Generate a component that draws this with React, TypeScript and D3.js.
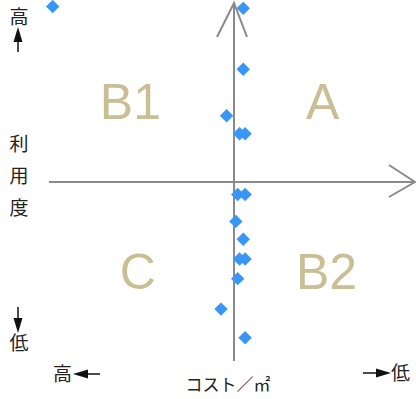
import React from 'react';
import * as d3 from 'd3';

// cost per m² (x) vs. usage (y), both on a -100..100 scale
const costValues = [-98, 5, 5, -4, 3, 6, 2, 6, 1, 5, 3, 6, 2, -7, 6];
const usageValues = [98, 97, 63, 37, 27, 27, -7, -7, -22, -32, -43, -43, -54, -71, -87];

// quadrant names and where they sit (data units, text baseline)
const quadrantLabels = ['A', 'B1', 'C', 'B2'];
const quadrantX = [48, -56, -52, 50];
const quadrantY = [35, 35, -60, -60];

const yAxisChars = ['利', '用', '度'];

const W = 416;
const H = 399;

const App = () => {
  const x = d3.scaleLinear().domain([-100, 100]).range([49, 419]);
  const y = d3.scaleLinear().domain([-100, 100]).range([361, 3]);

  const x0 = x(0);
  const y0 = y(0);

  const diamond = d3.symbol().type(d3.symbolSquare).size(90)();

  const font = '"Noto Sans CJK JP", "DejaVu Sans", sans-serif';
  const axisColor = '#8a8a8a';
  const labelColor = '#c9be94';

  return (
    <div style={{ position: 'absolute', left: 0, top: 0 }}>
      <svg width={W} height={H} style={{ display: 'block', background: '#fff' }}>
        {/* quadrant labels */}
        {quadrantLabels.map((t, i) => (
          <text
            key={t}
            x={x(quadrantX[i])}
            y={y(quadrantY[i])}
            textAnchor="middle"
            fontFamily="Liberation Sans, Arial, sans-serif"
            fontSize={50}
            fill={labelColor}
          >
            {t}
          </text>
        ))}

        {/* axes */}
        <g stroke={axisColor} strokeWidth={2} fill="none">
          <line x1={x.range()[0]} x2={415} y1={y0} y2={y0} />
          <line x1={x0} x2={x0} y1={361} y2={3} />
          <path d={`M${x0 - 17},37L${x0},3L${x0 + 13},37`} />
          <path d={`M389,${y0 - 17}L415,${y0}L389,${y0 + 15}`} />
        </g>

        {/* points */}
        {costValues.map((c, i) => (
          <path
            key={i}
            d={diamond}
            transform={`translate(${x(c)},${y(usageValues[i])}) rotate(45)`}
            fill="#3896f6"
          />
        ))}

        {/* left side labels */}
        <g fontFamily={font} fontSize={19} fill="#222" textAnchor="middle">
          <text x={19} y={24}>高</text>
          {yAxisChars.map((ch, i) => (
            <text key={ch} x={19} y={151 + i * 32}>{ch}</text>
          ))}
          <text x={19} y={350}>低</text>
        </g>
        <g stroke="#111" strokeWidth={1.5}>
          <line x1={18} x2={18} y1={52} y2={38} />
          <line x1={18} x2={18} y1={307} y2={320} />
        </g>
        <g fill="#111">
          <path d="M18,27L13.5,42L22.5,42Z" />
          <path d="M18,333L13.5,318L22.5,318Z" />
        </g>

        {/* bottom labels */}
        <g fontFamily={font} fontSize={19} fill="#222">
          <text x={53} y={381}>高</text>
          <text x={228} y={391} textAnchor="middle" fontSize={17}>コスト／㎡</text>
          <text x={391} y={380}>低</text>
        </g>
        <g stroke="#111" strokeWidth={1.5}>
          <line x1={86} x2={100} y1={374} y2={374} />
          <line x1={363} x2={378} y1={373} y2={373} />
        </g>
        <g fill="#111">
          <path d="M73,374L88,369.5L88,378.5Z" />
          <path d="M391,373L376,368.5L376,377.5Z" />
        </g>
      </svg>
    </div>
  );
};

export default App;
